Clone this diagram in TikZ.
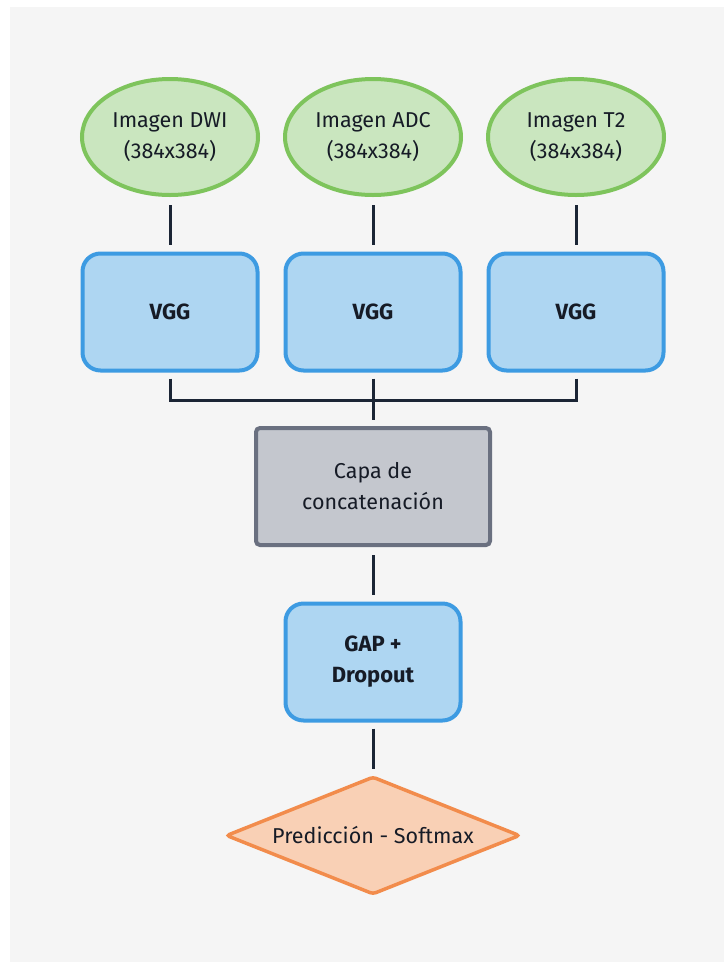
\documentclass[tikz,border=0pt]{standalone}
\usepackage{fontspec}
\setmainfont{Fira Sans}
\usetikzlibrary{shapes.geometric}
\definecolor{panel}{HTML}{F5F5F5}
\definecolor{inkc}{HTML}{161B26}
\definecolor{wire}{HTML}{1B2535}
\definecolor{greenline}{HTML}{7EC45C}
\definecolor{greenfill}{HTML}{CAE6BF}
\definecolor{blueline}{HTML}{3D9BE2}
\definecolor{bluefill}{HTML}{AED6F2}
\definecolor{grayline}{HTML}{6A7080}
\definecolor{grayfill}{HTML}{C4C7CE}
\definecolor{orangeline}{HTML}{F28C4C}
\definecolor{orangefill}{HTML}{F9D0B5}
\tikzset{
  txt/.style={font=\fontsize{21.5}{31}\selectfont, text=inkc, align=center},
  imgnode/.style={txt, ellipse, draw=greenline, fill=greenfill, line width=4pt,
    minimum width=176pt, minimum height=116pt, inner sep=0pt},
  netbox/.style={txt, draw=blueline, fill=bluefill, line width=4pt, rounded corners=18pt,
    minimum width=175pt, minimum height=117pt, inner sep=0pt, font=\fontsize{22}{31}\selectfont\bfseries},
  mergebox/.style={txt, draw=grayline, fill=grayfill, line width=4pt, rounded corners=4pt,
    minimum width=234pt, minimum height=117pt, inner sep=0pt},
  outnode/.style={txt, diamond, aspect=2.5, draw=orangeline, fill=orangefill, line width=3.5pt,
    rounded corners=3pt, minimum width=294pt, minimum height=118pt, inner sep=0pt},
  wirestyle/.style={draw=wire, line width=3pt, line join=miter}
}
\begin{document}
\begin{tikzpicture}[x=1pt, y=-1pt]
  % page and panel
  \fill[white] (0,0) rectangle (724,962);
  \fill[panel] (10,7) rectangle (724,962);
  \useasboundingbox (0,0) rectangle (724,962);

  % inputs
  \node[imgnode] (dwi) at (170,137) {Imagen DWI\\(384x384)};
  \node[imgnode] (adc) at (373,137) {Imagen ADC\\(384x384)};
  \node[imgnode] (t2)  at (576,137) {Imagen T2\\(384x384)};

  % feature extractors
  \node[netbox] (vgga) at (170,312) {VGG};
  \node[netbox] (vggb) at (373,312) {VGG};
  \node[netbox] (vggc) at (576,312) {VGG};

  % merge and head
  \node[mergebox] (concat) at (373,486.5) {Capa de\\concatenación};
  \node[netbox] (gap) at (373,662) {GAP +\\Dropout};
  \node[outnode] (pred) at (373,835.5) {Predicción - Softmax};

  \coordinate (bus) at (373,400);

  % connectors
  \draw[wirestyle, shorten <=8pt, shorten >=7pt] (dwi.south) -- (vgga.north);
  \draw[wirestyle, shorten <=8pt, shorten >=7pt] (adc.south) -- (vggb.north);
  \draw[wirestyle, shorten <=8pt, shorten >=7pt] (t2.south) -- (vggc.north);
  \draw[wirestyle, shorten <=6pt] (vgga.south) |- (bus);
  \draw[wirestyle, shorten <=6pt] (vggc.south) |- (bus);
  \draw[wirestyle, shorten <=6pt, shorten >=6pt] (vggb.south) -- (concat.north);
  \draw[wirestyle, shorten <=8pt, shorten >=7pt] (concat.south) -- (gap.north);
  \draw[wirestyle, shorten <=6pt, shorten >=6pt] (gap.south) -- (pred.north);
\end{tikzpicture}
\end{document}
